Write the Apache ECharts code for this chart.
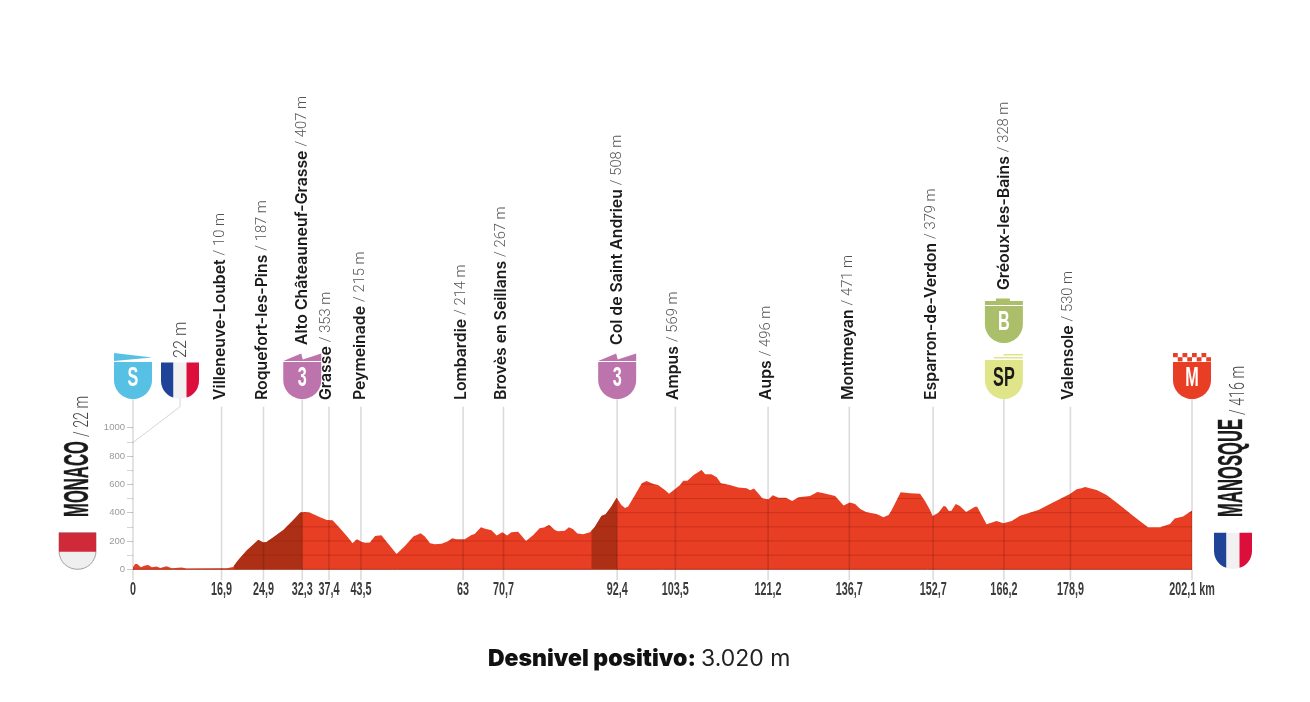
<!DOCTYPE html>
<html><head><meta charset="utf-8">
<style>html,body{margin:0;padding:0;background:#fff}#c{width:1310px;height:702px}</style>
<script src="https://cdn.jsdelivr.net/npm/echarts@6/dist/echarts.min.js"></script>
</head><body><div id="c"></div>
<script>
const profileKm=[0,0.4,0.8,1.5,2.3,2.9,3.6,4.5,5.2,6.4,7.4,9.3,10.2,16,17.9,19.1,20.1,21.7,23.9,24.9,25.5,26.8,28.7,30.6,31.9,32.8,33.8,35.7,37,38.1,39.5,41,41.9,42.7,43.6,44.3,45.2,46.2,47.4,48.4,50.3,51.9,53.5,54.9,55.7,56.7,57.6,58.9,60.2,60.9,61.7,63.3,64.6,65.2,66.4,67.2,68.4,69.4,70.5,71.4,72.2,73.5,75,76.4,77.6,78.6,79.4,80.5,81.1,82.4,83.2,84,84.8,85.9,87.2,88.1,89.4,90.2,91.3,92.3,93.2,93.9,94.5,95.8,97.1,98,99.3,100.2,101.5,102.3,103.4,104.4,105,105.8,107,108.5,109.2,110.4,111.4,112.2,113.9,115.5,117.1,117.8,118.5,119.3,120.1,121.3,122.1,123.2,124.6,125.8,127,129.2,130.6,131.8,134,135.6,136.8,137.8,138.8,140,141.9,143.2,144.2,144.8,146.5,148.3,150.2,151.2,152.1,152.6,153.7,154.7,155.1,155.7,156.2,157,157.8,159,160.7,161.1,162.9,164.8,166.1,167.7,169.3,172.8,175,178.8,180.1,181,181.7,183.9,185.8,188.3,190.9,193.7,196,197.9,198.8,200.4,202.1];
const profileM=[14,38,38,14,26,31,14,19,10,21,7,12,5,7,7,16,66,132,207,190,193,226,278,348,400,405,400,367,348,346,290,226,184,212,195,188,190,235,240,195,108,165,231,254,231,184,177,181,200,219,212,212,242,250,297,287,275,238,261,238,261,266,200,242,290,297,315,278,268,273,297,282,252,247,261,297,377,388,443,506,454,433,443,525,607,624,603,596,560,534,565,596,626,626,666,701,671,671,650,607,596,577,572,558,570,537,501,494,523,506,506,483,508,518,546,537,518,450,471,461,426,403,391,367,384,419,544,537,534,478,419,377,400,447,443,412,414,461,447,405,442,442,318,341,325,341,379,419,461,532,565,572,581,560,525,454,377,297,297,320,358,372,416];
const climbRanges=[[19.3,32.3],[87.5,92.4]];
const gridLevels=[0,100,200,300,400,500,600,700,800,900,1000];
const stopKm=[0,16.9,24.9,32.3,37.4,43.5,63,70.7,92.4,103.5,121.2,136.7,152.7,166.2,178.9,202.1];
const stopNames=['','Villeneuve-Loubet','Roquefort-les-Pins','Alto Châteauneuf-Grasse','Grasse','Peymeinade','Lombardie','Brovès en Seillans','Col de Saint Andrieu','Ampus','Aups','Montmeyan','Esparron-de-Verdon','Gréoux-les-Bains','Valensole',''];
const stopElev=[22,10,187,407,353,215,214,267,508,569,496,471,379,328,530,416];
const startName='MONACO',finishName='MANOSQUE';
const startElev=22,finishElev=416,gainLabel='3.020 m';

const PX=133,SANS='"Liberation Sans",Arial,sans-serif';
const NAME_FONT='600 15.8px Inter,"Liberation Sans",sans-serif',ELEV_FONT='300 15px Roboto,"Liberation Sans",sans-serif',THIN='Roboto,"Liberation Sans",sans-serif';
const measure=document.createElement('canvas').getContext('2d');
function textW(t,f){measure.font=f;return measure.measureText(t).width;}
const profile=profileKm.map((k,i)=>[k,profileM[i]]);
function elevAt(k){for(let i=1;i<profile.length;i++){if(k<=profile[i][0]){const a=profile[i-1],b=profile[i];return a[1]+(b[1]-a[1])*(k-a[0])/(b[0]-a[0]);}}return profile[profile.length-1][1];}
function climbData(r){const d=[[r[0],elevAt(r[0])]];profile.forEach(p=>{if(p[0]>r[0]&&p[0]<r[1])d.push(p)});d.push([r[1],elevAt(r[1])]);return d;}

const SHIELD='M-19,0 L19,0 L19,18 C19,29 10,37 0,37 C-10,37 -19,29 -19,18 Z';
const shieldDefs={
 0:{c:'#56c1e4',t:'S',tc:'#fff',y:362,extra:[{pts:[[-19,-9],[19,-4.5],[-19,-1]]}]},
 3:{c:'#bd74ad',t:'3',tc:'#fff',y:362,extra:[{pts:[[-19,-1],[-1,-8.5],[0.5,-2.5],[19,-8.5],[19,-1]]}]},
 8:{c:'#bd74ad',t:'3',tc:'#fff',y:362,extra:[{pts:[[-19,-1],[-1,-8.5],[0.5,-2.5],[19,-8.5],[19,-1]]}]},
 13:{c:'#e0e58a',t:'SP',tc:'#1a1a1a',y:362,extra:[{pts:[[-19,-2],[19,-2],[19,0],[-19,0]]},{pts:[[-10,-5],[19,-5],[19,-3.5],[-10,-3.5]]},{pts:[[-0.5,-8],[19,-8],[19,-6.5],[-0.5,-6.5]]}]},
 15:{c:'#e83e24',t:'M',tc:'#fff',y:362,check:true,extra:[]}
};
const greouxShield={c:'#abbf6b',t:'B',tc:'#fff',y:306,extra:[{pts:[[-19,-5],[-8,-5],[-8,-7.5],[6,-7.5],[6,-5],[19,-5],[19,-1],[-19,-1]]}]};
function shieldEls(cx,d){
  const ch=[{type:'path',x:cx,y:d.y,shape:{pathData:SHIELD},style:{fill:d.c}}];
  d.extra.forEach(e=>ch.push({type:'polygon',x:cx,y:d.y,shape:{points:e.pts},style:{fill:d.c}}));
  if(d.check){for(let r=0;r<2;r++)for(let i=0;i<8;i++){if((i+r)%2===0)ch.push({type:'rect',x:cx,y:d.y,shape:{x:-19+i*4.75,y:-9+r*4.2,width:4.75,height:4.2},style:{fill:d.c}});}}
  ch.push({type:'text',x:cx,y:d.y+16.5,scaleX:.6,style:{text:d.t,fill:d.tc,font:'bold 27px '+SANS,align:'center',verticalAlign:'middle'}});
  return ch;
}
function flag(x,y){
 return [
  {type:'path',x,y,shape:{pathData:'M-19,0 L-6.5,0 L-6.5,35 C-13,33.5 -19,27 -19,18 Z'},style:{fill:'#1f4396'}},
  {type:'path',x,y,shape:{pathData:'M-6.5,0 L6.5,0 L6.5,35 C3,36.6 -3,36.6 -6.5,35 Z'},style:{fill:'#f1f1f1'}},
  {type:'path',x,y,shape:{pathData:'M6.5,0 L19,0 L19,18 C19,27 13,33.5 6.5,35 Z'},style:{fill:'#dc0e3c'}}
 ];
}
const labelBase={3:345,8:345,13:290};
const labelShift={1:-1.5,2:-1.5,3:0,4:-3,5:-1,6:-2,7:-2,8:0,9:-2,10:-2,11:-1,12:-2,13:0,14:-2};
const chart=echarts.init(document.getElementById('c'),null,{renderer:'canvas'});
const climbSeries=climbRanges.map(r=>({type:'line',data:climbData(r),showSymbol:false,silent:true,z:3,lineStyle:{width:0},areaStyle:{color:'#ad3016',opacity:1}}));
chart.setOption({
 animation:false,backgroundColor:'#fff',
 title:{text:'{b|Desnivel positivo:} {r|'+gainLabel+'}',left:483,top:643,textStyle:{rich:{b:{fontFamily:'Inter',fontWeight:900,fontSize:23,color:'#111'},r:{fontFamily:'Inter',fontWeight:400,fontSize:23,color:'#222'}}}},
 grid:{left:PX,top:427.7,width:1059,height:141.6},
 xAxis:{type:'value',min:0,max:202.1,axisLine:{show:false},axisTick:{show:false},axisLabel:{show:false},splitLine:{show:false}},
 yAxis:{type:'value',min:0,max:1000,interval:200,axisLine:{show:false},
  axisTick:{show:true,length:6,lineStyle:{color:'#c8c8c8',width:1}},
  minorTick:{show:true,splitNumber:2,length:6,lineStyle:{color:'#d4d4d4',width:1}},
  axisLabel:{color:'#9a9a9a',fontSize:9.5,fontFamily:SANS,margin:8,formatter:v=>String(v)},splitLine:{show:false},minorSplitLine:{show:false}},
 graphic:[
  {type:'polyline',shape:{points:[[180,398],[180,406.7],[133,442.5]]},style:{stroke:'#d6d6d6',lineWidth:1,fill:null}},
  {type:'text',x:181,y:358,rotation:Math.PI/2,scaleX:.9,style:{text:startElev+' m',fill:'#444',font:'300 18px '+THIN,align:'left',verticalAlign:'middle'}},
  {type:'text',x:78,y:517,rotation:Math.PI/2,scaleX:.476,style:{text:startName,fill:'#1a1a1a',stroke:'#1a1a1a',lineWidth:.4,font:'bold 35px '+SANS,align:'left',verticalAlign:'middle'}},
  {type:'text',x:83,y:437,rotation:Math.PI/2,scaleX:.68,style:{text:'/ '+startElev+' m',fill:'#444',font:'300 21px '+THIN,align:'left',verticalAlign:'middle'}},
  {type:'text',x:1232.5,y:517,rotation:Math.PI/2,scaleX:.476,style:{text:finishName,fill:'#1a1a1a',stroke:'#1a1a1a',lineWidth:.4,font:'bold 35px '+SANS,align:'left',verticalAlign:'middle'}},
  {type:'text',x:1238.5,y:415,rotation:Math.PI/2,scaleX:.68,style:{text:'/ '+finishElev+' m',fill:'#444',font:'300 21px '+THIN,align:'left',verticalAlign:'middle'}}
 ],
 series:[
  {type:'line',data:profile,showSymbol:false,silent:true,z:2,lineStyle:{width:0},areaStyle:{color:'#e83e24',opacity:1}},
  ...climbSeries,
  {type:'custom',silent:true,z:4,clip:false,coordinateSystem:'cartesian2d',data:gridLevels.map(l=>[0,l]),
   renderItem(p,api){
    const L=api.value(1),ch=[];let start=null;
    for(let i=0;i<profile.length;i++){
     const a=profile[i],b=profile[i+1];
     if(a[1]>=L&&start===null)start=a[0];
     if(b&&a[1]>=L&&b[1]<L){ch.push([start,a[0]+(L-a[1])*(b[0]-a[0])/(b[1]-a[1])]);start=null;}
     else if(b&&a[1]<L&&b[1]>=L){start=a[0]+(L-a[1])*(b[0]-a[0])/(b[1]-a[1]);}
    }
    if(start!==null)ch.push([start,202.1]);
    return {type:'group',children:ch.map(s=>{const p1=api.coord([s[0],L]),p2=api.coord([s[1],L]);
      return {type:'line',shape:{x1:p1[0],y1:p1[1],x2:p2[0],y2:p2[1]},style:{stroke:L===0?'#a82c14':'rgba(140,25,5,.32)',lineWidth:1}}})};
   }},
  {type:'custom',silent:true,z:5,clip:false,coordinateSystem:'cartesian2d',data:stopKm.map((k,i)=>[k,0,i]),
   renderItem(p,api){
    const i=api.value(2),k=api.value(0),cx=api.coord([k,0])[0],ch=[];
    const hasShield=!!shieldDefs[i];
    const top=hasShield?398:406.7;
    ch.push({type:'line',shape:{x1:cx,y1:top,x2:cx,y2:580},style:{stroke:'rgba(0,0,0,.14)',lineWidth:1.6}});
    const km=String(k).replace('.',',')+(i===stopKm.length-1?' km':'');
    ch.push({type:'text',x:cx,y:590.5,scaleX:.6,style:{text:km,fill:'#3c3c3c',font:'bold 18px '+SANS,align:'center',verticalAlign:'middle'}});
    if(stopNames[i]){
     const b=labelBase[i]||400,lx=cx+(labelShift[i]||0),w=textW(stopNames[i],NAME_FONT);
     ch.push({type:'text',x:lx,y:b,rotation:Math.PI/2,style:{text:stopNames[i],fill:'#1a1a1a',font:NAME_FONT,align:'left',verticalAlign:'middle'}});
     ch.push({type:'text',x:lx,y:b-w-4,rotation:Math.PI/2,scaleX:.98,style:{text:'/ '+stopElev[i]+' m',fill:'#555',font:ELEV_FONT,align:'left',verticalAlign:'middle'}});
    }
    if(hasShield)ch.push(...shieldEls(cx,shieldDefs[i]));
    if(i===13)ch.push(...shieldEls(cx,greouxShield));
    if(i===0){
     ch.push(...flag(180,362.5),...flag(1233,532.7));
     ch.push({type:'path',x:77.5,y:532.7,shape:{pathData:'M-18.5,0 L18.5,0 L18.5,18 C18.5,29 10,36.6 0,36.6 C-10,36.6 -18.5,29 -18.5,18 Z'},style:{fill:'#efefef',stroke:'#8a8a8a',lineWidth:.8}});
     ch.push({type:'rect',shape:{x:59,y:532.7,width:37,height:19},style:{fill:'#d02a3a'}});
    }
    return {type:'group',children:ch};
   }}
 ]
});
</script></body></html>
